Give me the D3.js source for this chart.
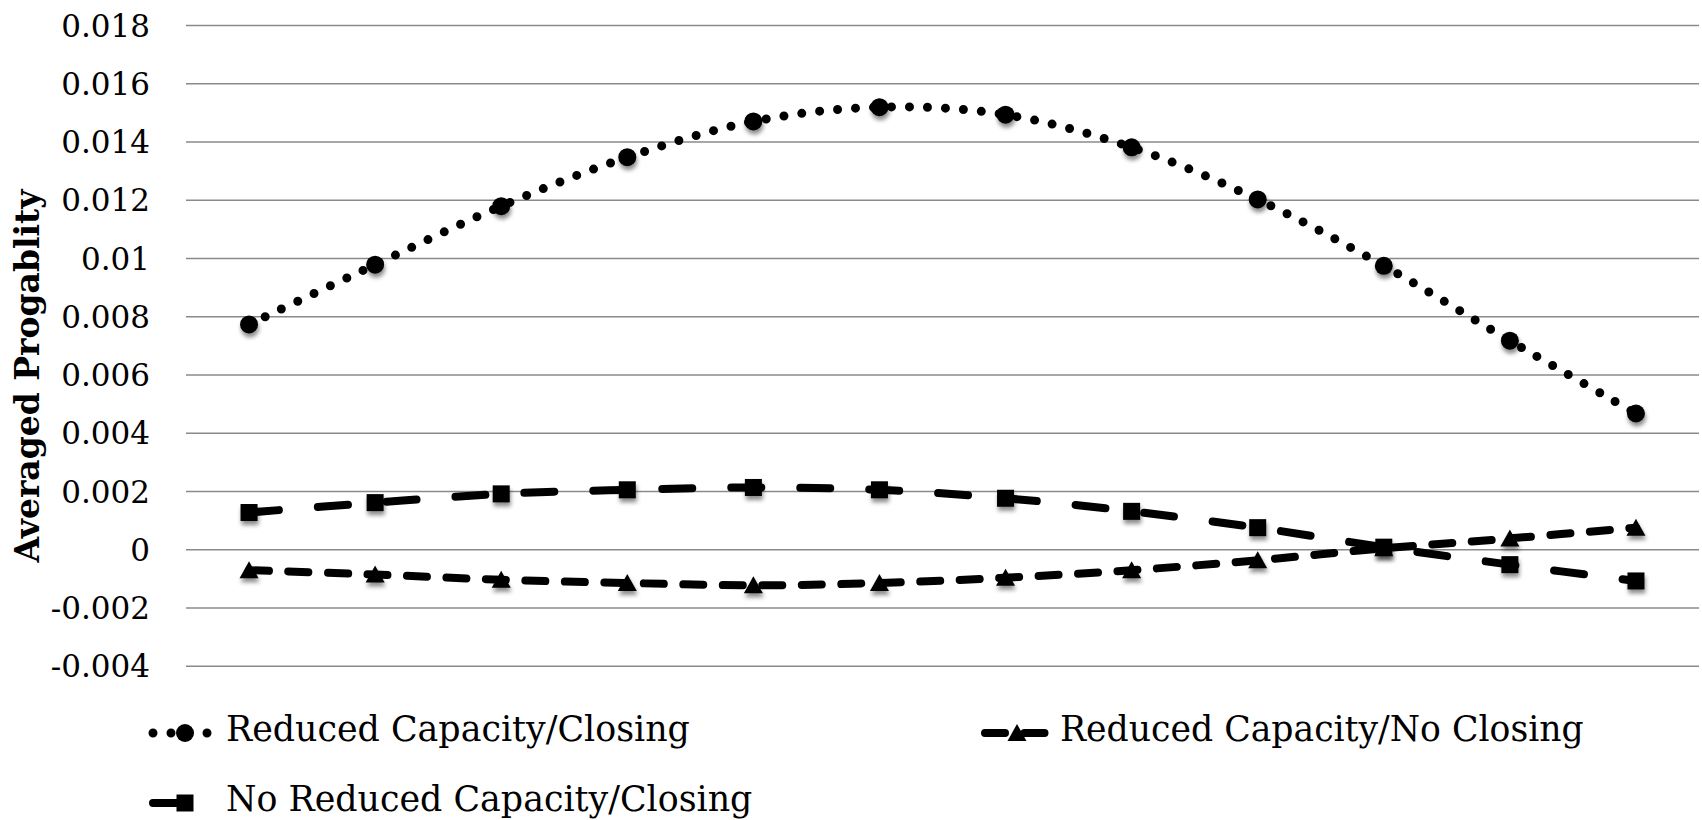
<!DOCTYPE html>
<html><head><meta charset="utf-8">
<script src="https://cdn.jsdelivr.net/npm/d3@7"></script>
<style>body{margin:0;background:#fff}svg{display:block}</style>
</head><body>
<svg id="c" width="1702" height="820"></svg>
<script>
// ---- data ----
const categories = ["1","2","3","4","5","6","7","8","9","10","11","12"];
const reducedClosing   = [0.00772,0.00977,0.01178,0.01346,0.01469,0.01518,0.01492,0.01380,0.01201,0.00973,0.00716,0.00466];
const reducedNoClosing = [-0.00072,-0.00087,-0.00105,-0.00116,-0.00124,-0.00116,-0.00098,-0.00072,-0.00038,0.00003,0.00037,0.00074];
const noReducedClosing = [0.00126,0.0016,0.0019,0.00204,0.00212,0.00204,0.00175,0.0013,0.00074,0.00007,-0.00053,-0.00109];
const seriesNames = ["Reduced Capacity/Closing","Reduced Capacity/No Closing","No Reduced Capacity/Closing"];
const yTicks = [-0.004,-0.002,0,0.002,0.004,0.006,0.008,0.01,0.012,0.014,0.016,0.018];
const yTickLabels = ["-0.004","-0.002","0","0.002","0.004","0.006","0.008","0.01","0.012","0.014","0.016","0.018"];
const yTitle = "Averaged Progablity";

// ---- layout ----
const svg = d3.select("#c");
const FONT = "'DejaVu Serif', serif";
const plot = {left:186, right:1699, top:25, bottom:665.7};
const x = d3.scalePoint().domain(categories).range([plot.left, plot.right]).padding(0.5);
const y = d3.scaleLinear().domain([-0.004, 0.018]).range([plot.bottom, plot.top]);

const defs = svg.append("defs");
const f = defs.append("filter").attr("id","sh").attr("x","-50%").attr("y","-50%").attr("width","200%").attr("height","220%");
f.append("feDropShadow").attr("dx",1).attr("dy",4).attr("stdDeviation",2.2).attr("flood-color","#000").attr("flood-opacity",0.45);

// gridlines
const yAxis = d3.axisLeft(y).tickValues(yTicks).tickSize(-(plot.right-plot.left)).tickPadding(36)
  .tickFormat((d,i)=>yTickLabels[i]);
const gy = svg.append("g").attr("transform",`translate(${plot.left},0)`).call(yAxis);
gy.select(".domain").remove();
gy.selectAll(".tick line").attr("stroke","#8a8a8a").attr("stroke-width",1.6);
gy.selectAll(".tick text").attr("font-family",FONT).attr("font-size",31).attr("fill","#000").attr("dy","0.36em");

// axis title
const title = svg.append("text").attr("transform","translate(39,376) rotate(-90)")
  .attr("text-anchor","middle").attr("font-family",FONT).attr("font-weight","bold")
  .attr("font-size",27).attr("fill","#000").text(yTitle);
function fit(sel, target){
  const n = sel.node(); const fs = +sel.attr("font-size");
  const w = n.getComputedTextLength(); sel.attr("font-size", fs*target/w);
}
fit(title, 373);

const series = [
  {name:seriesNames[0], values:reducedClosing, dash:"0 18", width:9, marker:"circle"},
  {name:seriesNames[1], values:reducedNoClosing, dash:"20 19.5", width:8, marker:"triangle"},
  {name:seriesNames[2], values:noReducedClosing, dash:"30 39", width:8, marker:"square"}
];

const line = d3.line().x((d,i)=>x(categories[i])).y(d=>y(d)).curve(d3.curveCardinal.tension(0));

function drawMarker(g, type, cx, cy, shadow){
  let m;
  if(type==="circle") m = g.append("circle").attr("cx",cx).attr("cy",cy).attr("r",9);
  else if(type==="square") m = g.append("rect").attr("x",cx-8.5).attr("y",cy-8.5).attr("width",17).attr("height",17);
  else m = g.append("path").attr("d",`M${cx},${cy-9}L${cx+9.5},${cy+8}L${cx-9.5},${cy+8}Z`);
  m.attr("fill","#000");
  if(shadow) m.attr("filter","url(#sh)");
}

// draw lines then markers
series.forEach(s=>{
  svg.append("path").datum(s.values).attr("d",line).attr("fill","none")
    .attr("stroke","#000").attr("stroke-width",s.width).attr("stroke-linecap","round")
    .attr("stroke-dasharray",s.dash);
});
series.forEach(s=>{
  const g = svg.append("g");
  s.values.forEach((v,i)=>drawMarker(g, s.marker, x(categories[i]), y(v), true));
});

// legend
const legendPos = [
  {lx:149, ly:733, tx:226, tw:464},
  {lx:981, ly:733, tx:1060, tw:524},
  {lx:149, ly:803, tx:226, tw:520}
];
series.forEach((s,i)=>{
  const p = legendPos[i];
  const g = svg.append("g");
  g.append("line").attr("x1",p.lx+4).attr("x2",p.lx+68).attr("y1",p.ly).attr("y2",p.ly)
    .attr("stroke","#000").attr("stroke-width",s.width).attr("stroke-linecap","round")
    .attr("stroke-dasharray",s.dash);
  drawMarker(g, s.marker, p.lx+36, p.ly, false);
  const t = g.append("text").attr("x",p.tx).attr("y",p.ly+8).attr("font-family",FONT)
    .attr("font-size",30).attr("fill","#000").text(s.name);
  if(i<2) fit(t, p.tw);
});
// third legend label uses same size as first
const fs0 = svg.selectAll("g text").filter(function(){return this.textContent===seriesNames[0];}).attr("font-size");
svg.selectAll("g text").filter(function(){return this.textContent===seriesNames[2];}).attr("font-size",fs0);
</script>
</body></html>
